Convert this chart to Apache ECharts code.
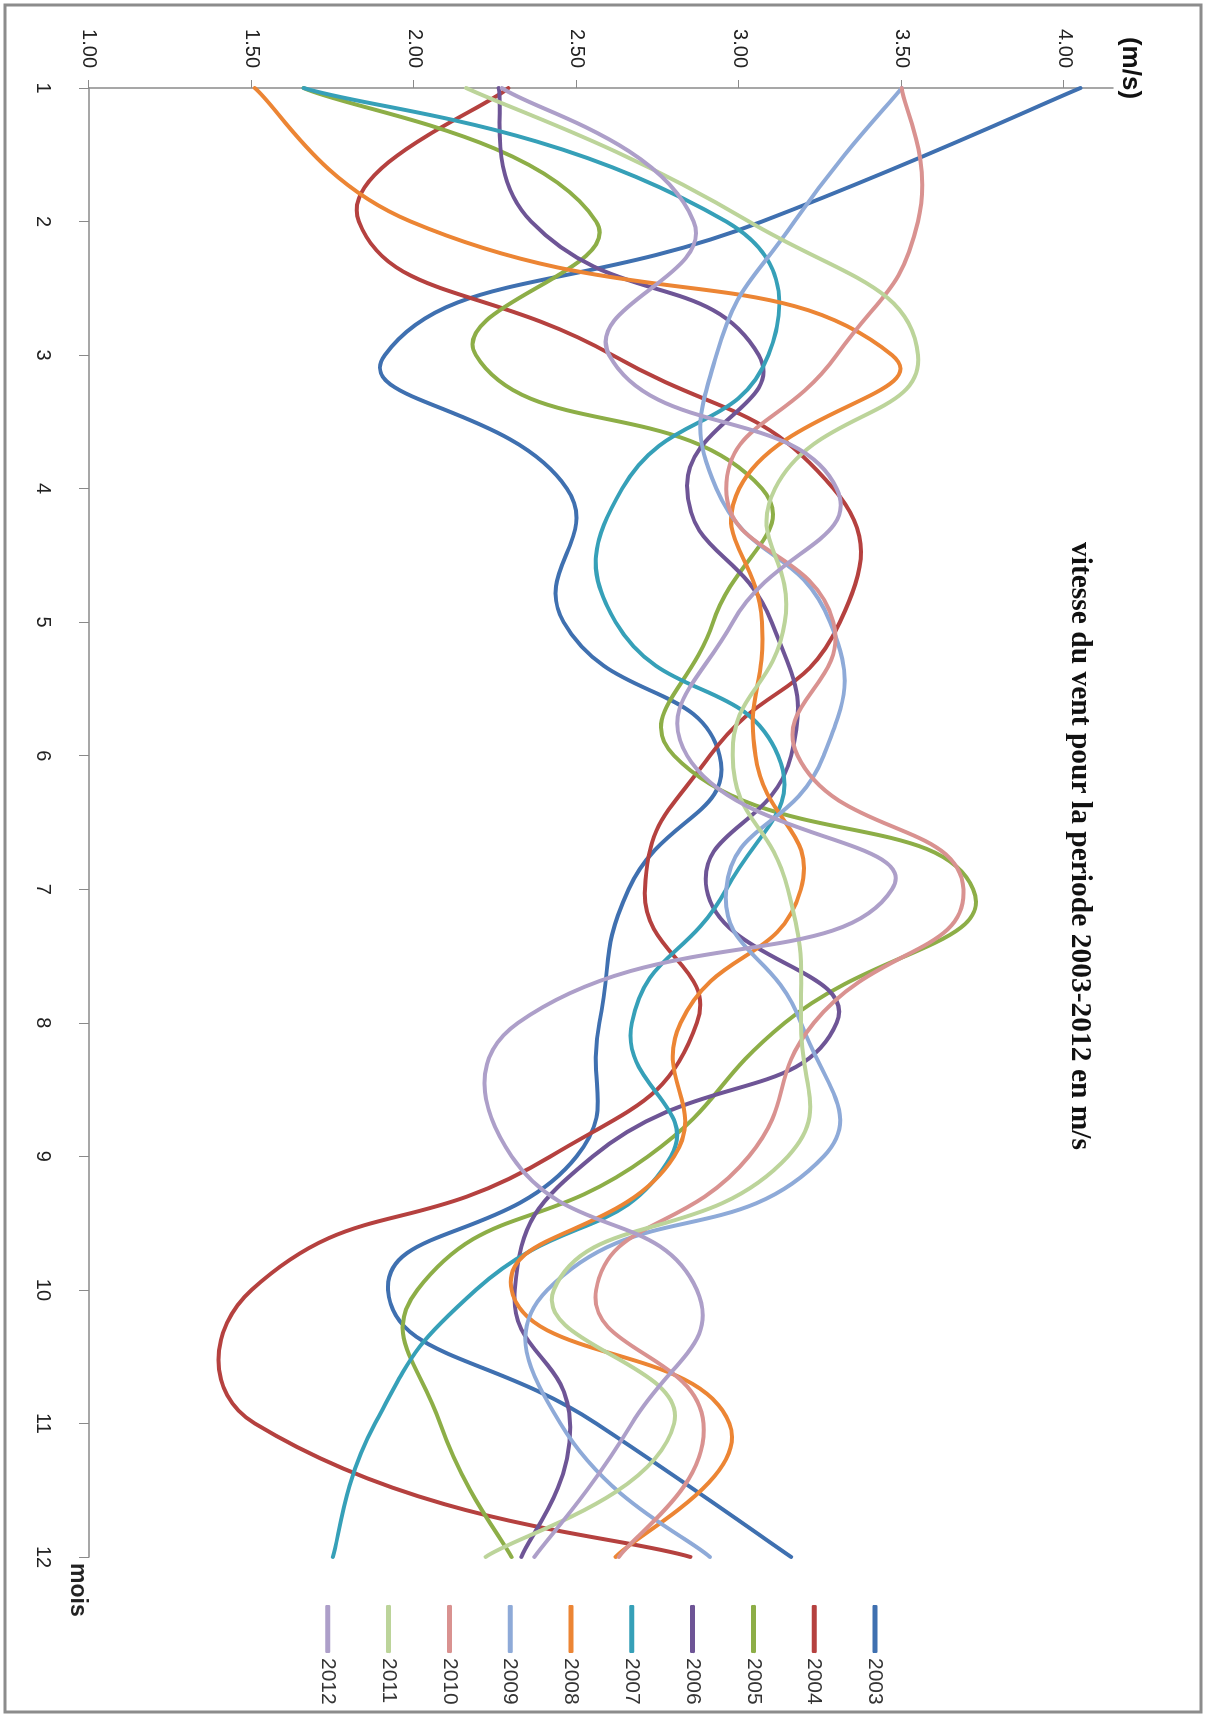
<!DOCTYPE html>
<html><head><meta charset="utf-8">
<script src="https://cdn.jsdelivr.net/npm/echarts@6/dist/echarts.min.js"></script>
<style>
html,body{margin:0;padding:0;background:#fff;overflow:hidden;}
#wrap{position:absolute;left:0;top:0;width:1206px;height:1718px;overflow:hidden;background:#fff;}
#chart{position:absolute;left:0;top:0;width:1718px;height:1206px;transform-origin:0 0;transform:translate(1206px,0) rotate(90deg);}
</style></head><body>
<div id="wrap"><div id="chart"></div></div>
<script>
const months = ['1','2','3','4','5','6','7','8','9','10','11','12'];
const valueTicks = [1, 1.5, 2, 2.5, 3, 3.5, 4];
const years = ['2003','2004','2005','2006','2007','2008','2009','2010','2011','2012'];
const v2003 = [4.05, 3.07, 1.91, 2.47, 2.46, 2.94, 2.66, 2.57, 2.50, 1.92, 2.56, 3.16];
const v2004 = [2.29, 1.83, 2.61, 3.29, 3.31, 2.91, 2.71, 2.87, 2.42, 1.50, 1.51, 2.85];
const v2005 = [1.66, 2.56, 2.19, 3.07, 2.92, 2.80, 3.72, 3.14, 2.72, 2.01, 2.08, 2.30];
const v2006 = [2.26, 2.36, 3.06, 2.84, 3.10, 3.16, 2.90, 3.30, 2.55, 2.31, 2.48, 2.33];
const v2007 = [1.66, 2.96, 3.09, 2.64, 2.62, 3.12, 2.96, 2.67, 2.79, 2.19, 1.88, 1.75];
const v2008 = [1.51, 1.99, 3.47, 3.00, 3.07, 3.05, 3.19, 2.82, 2.80, 2.30, 2.97, 2.62];
const v2009 = [3.50, 3.17, 2.93, 2.93, 3.28, 3.26, 2.96, 3.19, 3.26, 2.41, 2.45, 2.91];
const v2010 = [3.50, 3.55, 3.30, 2.96, 3.29, 3.18, 3.69, 3.23, 3.03, 2.56, 2.89, 2.63];
const v2011 = [2.16, 3.03, 3.55, 3.11, 3.14, 2.98, 3.15, 3.19, 3.15, 2.43, 2.80, 2.22];
const v2012 = [2.27, 2.86, 2.60, 3.30, 2.98, 2.84, 3.47, 2.32, 2.30, 2.87, 2.67, 2.37];
const seriesValues = [v2003, v2004, v2005, v2006, v2007, v2008, v2009, v2010, v2011, v2012];
const colors = ['#3f70b0','#b5413f','#8dae47','#6e5596','#36a0b8','#ec8534','#8eaad8','#d99290','#bcd49a','#ad9fc9'];
const titleText = 'vitesse du vent pour la periode 2003-2012 en m/s';
const xName = 'mois';
const yName = '(m/s)';

// Excel-like smoothed line: bezier control points from neighbours, weighted by segment lengths (no clamping)
function smoothPath(pts, s) {
  const n = pts.length;
  const cpIn = [], cpOut = [];
  for (let i = 0; i < n; i++) {
    const p = pts[i];
    const prev = i > 0 ? pts[i - 1] : p;
    const next = i < n - 1 ? pts[i + 1] : p;
    const vx = next[0] - prev[0], vy = next[1] - prev[1];
    const lp = Math.hypot(p[0] - prev[0], p[1] - prev[1]);
    const ln = Math.hypot(next[0] - p[0], next[1] - p[1]);
    let r = (lp + ln) > 0 ? ln / (lp + ln) : 0.5;
    let kIn = s * (1 - r), kOut = s * r;
    if (i === 0) kOut = s / 3;
    if (i === n - 1) kIn = s / 3;
    cpIn.push([p[0] - vx * kIn, p[1] - vy * kIn]);
    cpOut.push([p[0] + vx * kOut, p[1] + vy * kOut]);
  }
  let d = 'M' + pts[0][0] + ' ' + pts[0][1];
  for (let i = 0; i < n - 1; i++) {
    d += ' C' + cpOut[i][0] + ' ' + cpOut[i][1] + ' ' + cpIn[i + 1][0] + ' ' + cpIn[i + 1][1] + ' ' + pts[i + 1][0] + ' ' + pts[i + 1][1];
  }
  return d;
}

function makeRenderItem(values, color) {
  return function (params, api) {
    if (params.dataIndex !== 0) return {type: 'group', children: []};
    const pts = values.map(function (v, i) { return api.coord([i, v]); });
    return {
      type: 'path',
      shape: {pathData: smoothPath(pts, 0.5)},
      style: {fill: 'none', stroke: color, lineWidth: 4, lineCap: 'round', lineJoin: 'round'}
    };
  };
}

const chart = echarts.init(document.getElementById('chart'), null, {width: 1718, height: 1206, renderer: 'canvas'});
const axisGray = '#8a8a8a';
chart.setOption({
  animation: false,
  backgroundColor: '#ffffff',
  color: colors,
  title: {
    text: titleText,
    left: 841,
    top: 106,
    textAlign: 'center',
    textStyle: {fontFamily: 'Liberation Serif', fontWeight: 'bold', fontSize: 29.5, lineHeight: 30, color: '#111'}
  },
  graphic: [{
    type: 'rect', silent: true,
    shape: {x: 5, y: 5, width: 1707, height: 1196},
    style: {fill: 'none', stroke: '#8c8c8c', lineWidth: 3}
  }],
  legend: {
    orient: 'vertical',
    left: 1600,
    top: 315,
    itemWidth: 48,
    itemHeight: 5,
    itemGap: 38.8,
    icon: 'roundRect',
    data: years,
    textStyle: {fontFamily: 'Liberation Sans', fontSize: 21, lineHeight: 22, color: '#333'}
  },
  grid: {left: 88, right: 161, top: 93, bottom: 89},
  xAxis: {
    type: 'category',
    data: months,
    boundaryGap: false,
    name: xName,
    nameLocation: 'end',
    nameGap: 6,
    nameTextStyle: {fontFamily: 'Liberation Sans', fontWeight: 'bold', fontSize: 23, color: '#222', verticalAlign: 'top', align: 'left'},
    axisLine: {show: true, lineStyle: {color: axisGray, width: 1.5}},
    axisTick: {show: true, alignWithLabel: true, length: 10, lineStyle: {color: axisGray}},
    axisLabel: {margin: 36, fontFamily: 'Liberation Sans', fontSize: 20, color: '#222'},
    splitLine: {show: false}
  },
  yAxis: {
    type: 'value',
    min: 1,
    max: 4.15,
    interval: 0.5,
    name: yName,
    nameLocation: 'end',
    nameGap: 4,
    nameTextStyle: {fontFamily: 'Liberation Sans', fontWeight: 'bold', fontSize: 26, color: '#111', verticalAlign: 'bottom', padding: [0, 40, 0, 0]},
    axisLine: {show: true, lineStyle: {color: axisGray, width: 1.5}},
    axisTick: {show: true, length: 8, customValues: valueTicks, lineStyle: {color: axisGray}},
    axisLabel: {margin: 20, customValues: valueTicks, fontFamily: 'Liberation Sans', fontSize: 20, color: '#222',
      formatter: function (v) { return Number(v).toFixed(2); }},
    splitLine: {show: false}
  },
  series: years.map(function (y, i) {
    return {
      name: y,
      type: 'custom',
      coordinateSystem: 'cartesian2d',
      data: seriesValues[i].map(function (v, k) { return [k, v]; }),
      encode: {x: 0, y: 1},
      renderItem: makeRenderItem(seriesValues[i], colors[i]),
      itemStyle: {color: colors[i]},
      clip: false
    };
  })
});
</script>
</body></html>
